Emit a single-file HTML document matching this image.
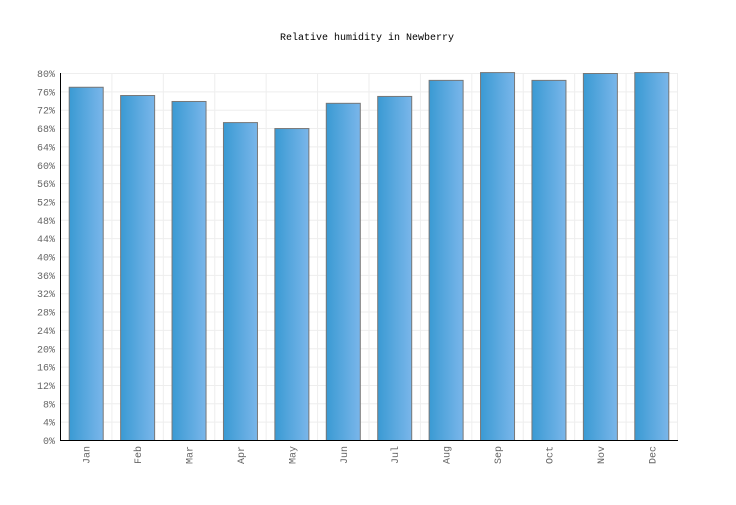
<!DOCTYPE html>
<html><head><meta charset="utf-8"><style>
body{margin:0;background:#fff;}
svg text{font-family:"Liberation Mono","DejaVu Sans Mono",monospace;}
</style></head><body>
<svg id="chart" width="736" height="500">
<defs><linearGradient id="g" x1="0" x2="1" y1="0" y2="0"><stop offset="0" stop-color="#3a9ad3"/><stop offset="1" stop-color="#7ab6ea"/></linearGradient></defs>
<text x="367" y="40" text-anchor="middle" font-size="10" fill="#000">Relative humidity in Newberry</text>
<g id="grid"></g><g id="bars"></g><g id="axes"></g>
</svg>
<script>
const categories=["Jan","Feb","Mar","Apr","May","Jun","Jul","Aug","Sep","Oct","Nov","Dec"];
const values=[77,75.2,73.9,69.3,68,73.5,75,78.5,80.2,78.5,80,80.2];
const ticks=[0,4,8,12,16,20,24,28,32,36,40,44,48,52,56,60,64,68,72,76,80];
const NS="http://www.w3.org/2000/svg";
const L=60,R=677,T=73,B=440,maxV=80;
const cw=(R-L)/categories.length;
function y(v){return B-(v/maxV)*(B-T);}
function xc(i){return L+cw*(i+0.5);}
function mk(t,a,p){const e=document.createElementNS(NS,t);for(const k in a)e.setAttribute(k,a[k]);p.appendChild(e);return e;}
const grid=document.getElementById('grid'),bars=document.getElementById('bars'),axes=document.getElementById('axes');
ticks.forEach(t=>{
 const l=mk('line',{x1:L,x2:R,y1:y(t)+0.5,y2:y(t)+0.5,stroke:'#eee'},grid);
 
 
 const tx=mk('text',{x:L-5,y:y(t)+4,'text-anchor':'end','font-size':'10',fill:'#666'},axes);
 tx.textContent=t+'%';
 
 
});
for(let i=1;i<=categories.length;i++){
 const l=mk('line',{x1:L+cw*i+0.5,x2:L+cw*i+0.5,y1:T,y2:B,stroke:'#eee'},grid);
 
 
}
categories.forEach((c,i)=>{
 const bw=34;
 const r=mk('rect',{x:xc(i)-bw/2+0.5,y:y(values[i])+0.5,width:bw,height:B-y(values[i]),fill:'url(#g)',stroke:'#777','stroke-width':1},bars);
 
 
 const tx=mk('text',{x:0,y:0,'text-anchor':'end','font-size':'10',fill:'#666',transform:`translate(${xc(i)+4},446) rotate(-90)`},axes);
 tx.textContent=c;
 
 
});
const ya=mk('line',{x1:L+0.5,x2:L+0.5,y1:T,y2:B+1,stroke:'#000'},axes);


const xa=mk('line',{x1:L,x2:R+1,y1:B+0.5,y2:B+0.5,stroke:'#000'},axes);


</script>
</body></html>
